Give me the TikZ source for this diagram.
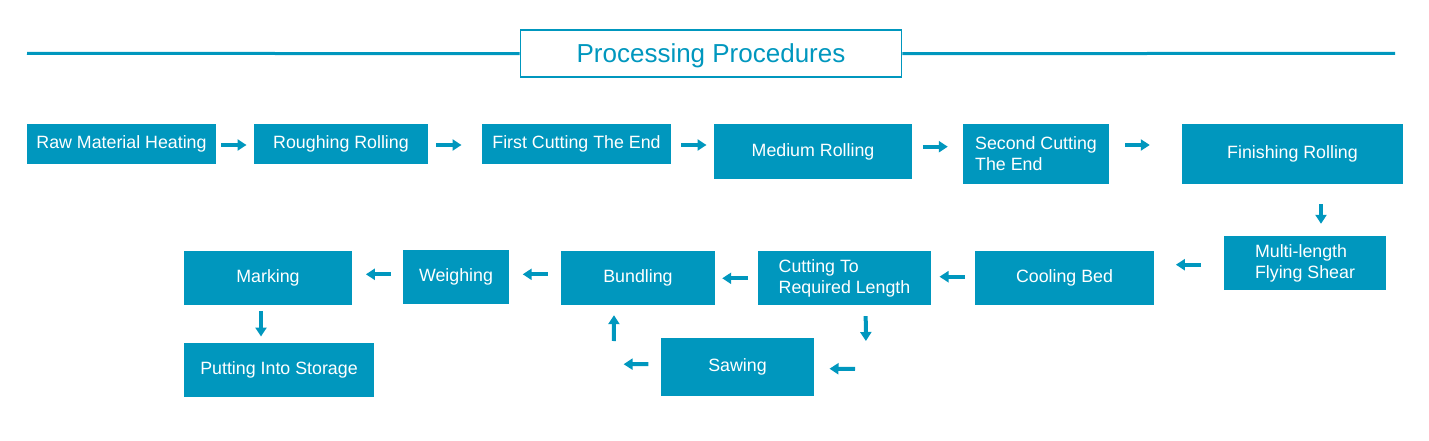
\documentclass[tikz,border=0pt]{standalone}
\usepackage{fontspec}
\setmainfont{Liberation Sans}
\usetikzlibrary{arrows.meta,calc}
\definecolor{teal}{RGB}{0,151,190}
\tikzset{
  box/.style={fill=teal, text=white, inner sep=0pt, align=left,
    font=\fontsize{17.8}{21}\selectfont},
  arr/.style={draw=teal, line width=4pt, -{Triangle[length=9pt,width=11pt]}},
  rule/.style={draw=teal, line width=3pt}
}
\newcommand{\bx}[6]{\node[box, minimum width=#4pt, minimum height=#5pt] (#1) at (#2,#3) {#6};}
\begin{document}
\begin{tikzpicture}[x=1pt,y=-1pt]
\useasboundingbox (0,0) rectangle (1429,441);
% title
\node[draw=teal, line width=1.7pt, fill=white, minimum width=381pt, minimum height=47pt, inner sep=0pt,
  text=teal, font=\fontsize{26}{30}\selectfont] (title) at (711,53.7) {\smash{\raisebox{-9pt}{Processing Procedures}}};
\coordinate (lineL) at (27,53.3);
\coordinate (lineR) at (1395,53.3);
\draw[rule] (lineL) -- (title.west);
\draw[rule] (title.east) -- (lineR);
% boxes
\bx{raw}{121.5}{144}{189}{40}{Raw Material Heating}
\bx{rough}{341}{144}{174}{40}{Roughing Rolling}
\bx{first}{576.5}{144}{189}{40}{First Cutting The End}
\bx{medium}{813}{151.5}{198}{55}{Medium Rolling}
\bx{second}{1036}{154}{146}{60}{Second Cutting\\The End}
\bx{finish}{1292.5}{154}{221}{60}{Finishing Rolling}
\bx{multi}{1305}{263}{162}{54}{Multi-length\\Flying Shear}
\bx{cool}{1064.5}{278}{179}{54}{Cooling Bed}
\bx{cut}{844.5}{278}{173}{54}{Cutting To\\Required Length}
\bx{bund}{638}{278}{154}{54}{Bundling}
\bx{weigh}{456}{277}{106}{54}{Weighing}
\bx{mark}{268}{278}{168}{54}{Marking}
\bx{store}{279}{370}{190}{54}{Putting Into Storage}
\bx{saw}{737.5}{367}{153}{58}{Sawing}
% arrows
\draw[arr] ($(raw.east)+(5,1)$) -- ($(rough.west)+(-7.3,1)$);
\draw[arr] ($(rough.east)+(8,1)$) -- ($(first.west)+(-20.3,1)$);
\draw[arr] ($(first.east)+(10,1)$) -- ($(medium.west)+(-7.3,-6.5)$);
\draw[arr] ($(medium.east)+(10.7,-4.8)$) -- ($(second.west)+(-15,-7.3)$);
\draw[arr] ($(second.east)+(16,-9)$) -- ($(finish.west)+(-32,-9)$);
\draw[arr] ($(finish.south)+(28.5,20)$) -- ($(multi.north)+(16,-12)$);
\draw[arr] ($(multi.west)+(-23,1.7)$) -- ($(cool.east)+(21.7,-13.3)$);
\draw[arr] ($(cool.west)+(-10,-1.3)$) -- ($(cut.east)+(8.3,-1.3)$);
\draw[arr] ($(cut.west)+(-10.3,0.3)$) -- ($(bund.east)+(7,0.3)$);
\draw[arr] ($(cut.south)+(21.2,11)$) -- ($(saw.east)+(51.7,-26)$);
\draw[arr] ($(cut.south)+(10.5,63.7)$) -- ($(saw.east)+(15.3,1.7)$);
\draw[arr] ($(saw.west)+(-12.4,-3)$) -- ($(bund.south)+(-14.4,59)$);
\draw[arr] ($(saw.west)+(-47,-26)$) -- ($(bund.south)+(-24,10)$);
\draw[arr] ($(bund.west)+(-13.1,-3.7)$) -- ($(weigh.east)+(13.5,-2.7)$);
\draw[arr] ($(weigh.west)+(-12.3,-2.7)$) -- ($(mark.east)+(13.7,-3.7)$);
\draw[arr] ($(mark.south)+(-7,6)$) -- ($(store.north)+(-18,-6.3)$);
\end{tikzpicture}
\end{document}
